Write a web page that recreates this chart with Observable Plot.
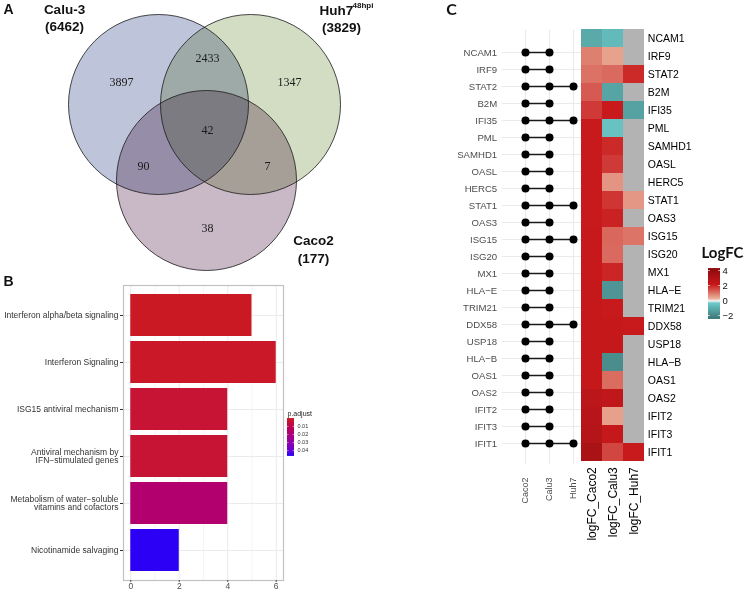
<!DOCTYPE html>
<html><head><meta charset="utf-8">
<script src="https://cdn.jsdelivr.net/npm/d3@7"></script>
<script src="https://cdn.jsdelivr.net/npm/@observablehq/plot@0.6"></script>
<style>
body{margin:0;background:#fff}
#fig{position:relative;width:747px;height:591px;overflow:hidden;background:#fff}
#fig > svg{position:absolute}
</style></head><body><div id="fig"></div>
<script>
// ---------- Data ----------
// Panel A: Venn
const vennSets = ["Calu-3", "Huh7", "Caco2"];
const vennTotals = [6462, 3829, 177];
const vennRegions = ["Calu-3 only", "Calu-3∩Huh7", "Huh7 only", "all three", "Calu-3∩Caco2", "Huh7∩Caco2", "Caco2 only"];
const vennCounts = [3897, 2433, 1347, 42, 90, 7, 38];
const vennColors = ["#bec4da", "#d3ddc3", "#c9b8c5"];

// Panel B: pathway enrichment
const pathways = ["Interferon alpha/beta signaling", "Interferon Signaling", "ISG15 antiviral mechanism",
  "Antiviral mechanism by\nIFN−stimulated genes", "Metabolism of water−soluble\nvitamins and cofactors", "Nicotinamide salvaging"];
const pathwayCounts = [5, 6, 4, 4, 4, 2];
const pathwayPadj = [0.0008, 0.0015, 0.004, 0.004, 0.017, 0.046];
const barTicks = [0, 2, 4, 6];
const padjTicks = [0.01, 0.02, 0.03, 0.04];

// Panel C: genes, membership and logFC
const genes = ["NCAM1","IRF9","STAT2","B2M","IFI35","PML","SAMHD1","OASL","HERC5","STAT1","OAS3","ISG15",
  "ISG20","MX1","HLA−E","TRIM21","DDX58","USP18","HLA−B","OAS1","OAS2","IFIT2","IFIT3","IFIT1"];
const cellLines = ["Caco2", "Calu3", "Huh7"];
const inHuh7 = ["STAT2","IFI35","STAT1","ISG15","DDX58","IFIT1"];
const heatColumns = ["logFC_Caco2", "logFC_Calu3", "logFC_Huh7"];
const logfcCaco2 = [-1.1, 0.94, 1.1, 1.4, 1.8, 2.2, 2.2, 2.2, 2.2, 2.2, 2.2, 2.25, 2.25, 2.25, 2.3, 2.3, 2.3, 2.3, 2.35, 2.35, 2.65, 2.8, 2.85, 3.25];
const logfcCalu3 = [-0.7, 0.51, 1.2, -1.25, 2.2, -0.5, 2.0, 1.8, 0.68, 1.86, 2.1, 1.24, 1.2, 2.05, -1.6, 2.2, 2.3, 2.3, -1.8, 1.18, 2.5, 0.53, 2.3, 1.65];
const logfcHuh7 = [null, null, 2.0, null, -1.3, null, null, null, null, 0.64, null, 1.08, null, null, null, null, 2.2, null, null, null, null, null, null, 2.2];
const logfcTicks = [4, 2, 0, -2];

// ---------- Layout (not data) ----------
const vennLayout = {
  centers: [[158, 104], [250, 104], [206, 180]],
  radius: 90,
  regionXY: [[121, 82], [207, 58], [289, 82], [207, 130], [143, 166], [267, 166], [207, 228]]
};
const FONT = "Liberation Sans, Arial, sans-serif";
const baseStyle = {background: "transparent", overflow: "visible", fontFamily: FONT};
const fig = document.getElementById("fig");
function place(svg, left, top) { svg.style.left = left + "px"; svg.style.top = top + "px"; fig.appendChild(svg); }

const logfcColor = {type: "linear", domain: [-2.4, -0.3, 0, 0.3, 2.2, 4.3],
  range: ["#3d7575", "#6ccaca", "#f4f4f4", "#eab39b", "#c8191c", "#8c0c10"], interpolate: "rgb"};
const padjColor = {type: "linear", domain: [0, 0.046], range: ["#cc1a20", "#2b00f5"], interpolate: "lab"};

// ---------- Panel A ----------
const circles = vennSets.map((s, i) => ({set: s, cx: vennLayout.centers[i][0], cy: vennLayout.centers[i][1], fill: vennColors[i]}));
const regions = vennRegions.map((r, i) => ({region: r, count: vennCounts[i], x: vennLayout.regionXY[i][0], y: vennLayout.regionXY[i][1]}));
place(Plot.plot({
  width: 370, height: 300, margin: 0, style: baseStyle,
  x: {type: "identity", axis: null}, y: {type: "identity", axis: null}, color: {type: "identity"},
  marks: [
    Plot.dot(circles, {x: "cx", y: "cy", r: vennLayout.radius, fill: "fill", mixBlendMode: "multiply"}),
    Plot.dot(circles, {x: "cx", y: "cy", r: vennLayout.radius, fill: "none", stroke: "#1a1a1a", strokeWidth: 0.8}),
    Plot.text(regions, {x: "x", y: "y", text: d => String(d.count), fontFamily: "Liberation Serif, Times New Roman, serif", fontSize: 12, fill: "#1a1a1a"}),
    Plot.text([vennSets[0], `(${vennTotals[0]})`], {x: 64, y: (d, i) => [9, 26][i], text: d => d, fontWeight: "bold", fontSize: 13.5, fill: "#111"}),
    Plot.text([vennSets[1]], {x: 319, y: 10, text: d => d, textAnchor: "start", fontWeight: "bold", fontSize: 13.5, fill: "#111"}),
    Plot.text(["48hpi"], {x: 352, y: 5, text: d => d, textAnchor: "start", fontWeight: "bold", fontSize: 8, fill: "#111"}),
    Plot.text([`(${vennTotals[1]})`], {x: 341, y: 27, text: d => d, fontWeight: "bold", fontSize: 13.5, fill: "#111"}),
    Plot.text([vennSets[2], `(${vennTotals[2]})`], {x: 313, y: (d, i) => [240, 258][i], text: d => d, fontWeight: "bold", fontSize: 13.5, fill: "#111"}),
    Plot.text(["A"], {x: 8, y: 9, text: d => d, fontWeight: "bold", fontSize: 14, fill: "#111"}),
    Plot.text(["B"], {x: 8, y: 281, text: d => d, fontWeight: "bold", fontSize: 14, fill: "#111"})
  ]
}), 0, 0);

// ---------- Panel B ----------
const bars = pathways.map((p, i) => ({pathway: p, count: pathwayCounts[i], padj: pathwayPadj[i]}));
place(Plot.plot({
  width: 330, height: 311, marginLeft: 123, marginRight: 47, marginTop: 5, marginBottom: 11, style: baseStyle,
  x: {domain: [-0.3, 6.3]},
  y: {domain: pathways, paddingInner: 0.1, paddingOuter: 0.15},
  color: padjColor,
  marks: [
    Plot.ruleX([1, 3, 5], {stroke: "#f3f3f3", strokeWidth: 0.8}),
    Plot.gridX({ticks: barTicks, stroke: "#ebebeb", strokeOpacity: 1}),
    Plot.gridY({stroke: "#ebebeb", strokeOpacity: 1}),
    Plot.barX(bars, {x: "count", y: "pathway", fill: "padj"}),
    Plot.frame({stroke: "#c2c2c2", strokeWidth: 1.2}),
    Plot.axisX({ticks: barTicks, tickFormat: d => String(d), tickSize: 2, tickPadding: 0, fontSize: 8.5, color: "#4d4d4d", label: null}),
    Plot.axisY({tickSize: 3, tickPadding: 2, fontSize: 8.5, color: "#333", label: null})
  ]
}), 0, 280);

// p.adjust legend
place(Plot.plot({
  width: 60, height: 60, margin: 0, style: baseStyle,
  x: {type: "identity", axis: null}, y: {domain: [0, 0.046], range: [18, 55], axis: null},
  color: padjColor,
  marks: [
    Plot.ruleY(d3.range(0, 0.0461, 0.0002), {y: d => d, x1: 7, x2: 14, stroke: d => d, strokeWidth: 0.6}),
    Plot.ruleY(padjTicks, {y: d => d, x1: 7, x2: 8.5, stroke: "white", strokeWidth: 0.5}),
    Plot.ruleY(padjTicks, {y: d => d, x1: 12.5, x2: 14, stroke: "white", strokeWidth: 0.5}),
    Plot.text(padjTicks, {y: d => d, x: 17, text: d => d.toFixed(2), textAnchor: "start", fontSize: 5.5, fill: "#333"}),
    Plot.text(["p.adjust"], {frameAnchor: "top-left", dx: 7, dy: 13, text: d => d, textAnchor: "start", lineAnchor: "middle", fontSize: 7, fill: "#222"})
  ]
}), 280, 400);

// ---------- Panel C: dot matrix ----------
const membership = genes.flatMap(g => cellLines.filter(c => c !== "Huh7" || inHuh7.includes(g)).map(c => ({gene: g, line: c})));
place(Plot.plot({
  width: 211, height: 591, marginLeft: 131.7, marginRight: 0, marginTop: 30, marginBottom: 127, style: baseStyle,
  x: {type: "point", domain: cellLines, range: [155.3, 203.3], padding: 0},
  y: {type: "point", domain: genes, padding: 0.6},
  marks: [
    Plot.gridY({stroke: "#ebebeb", strokeOpacity: 1, strokeWidth: 1.2}),
    Plot.gridX({stroke: "#ebebeb", strokeOpacity: 1, strokeWidth: 1.2}),
    Plot.line(membership, {x: "line", y: "gene", z: "gene", stroke: "#1a1a1a", strokeWidth: 1.6}),
    Plot.dot(membership, {x: "line", y: "gene", r: 4, fill: "black"}),
    Plot.axisY({tickSize: 0, tickPadding: 5, fontSize: 9.6, color: "#4d4d4d", label: null}),
    Plot.axisX({tickSize: 0, tickPadding: 13, rotate: -90, textAnchor: "end", dx: -4, fontSize: 9, color: "#4d4d4d", label: null}),
    Plot.text(["C"], {frameAnchor: "top-left", dx: -50.7, dy: -21, text: d => d, textAnchor: "middle", lineAnchor: "middle", fontFamily: "Lato, Open Sans, sans-serif", fontWeight: "bold", fontSize: 16, fill: "#111"})
  ]
}), 370, 0);

// ---------- Panel C: heatmap ----------
const heatCells = genes.flatMap((g, i) => [logfcCaco2[i], logfcCalu3[i], logfcHuh7[i]].map((v, j) => ({gene: g, col: heatColumns[j], v})));
place(Plot.plot({
  width: 145, height: 591, marginLeft: 20.7, marginRight: 60.7, marginTop: 27.7, marginBottom: 129.3, style: baseStyle,
  x: {domain: heatColumns, padding: 0},
  y: {domain: genes, padding: 0},
  color: logfcColor,
  marks: [
    Plot.cell(heatCells, {x: "col", y: "gene", fill: "#b3b3b3"}),
    Plot.cell(heatCells.filter(d => d.v != null), {x: "col", y: "gene", fill: "v"}),
    Plot.axisY({anchor: "right", tickSize: 0, tickPadding: 3, fontSize: 10.5, color: "black", label: null}),
    Plot.axisX({anchor: "bottom", rotate: -90, textAnchor: "end", dx: -5, tickSize: 0, tickPadding: 5, fontSize: 12, color: "black", label: null})
  ]
}), 560, 0);

// LogFC legend
place(Plot.plot({
  width: 52, height: 90, margin: 0, style: baseStyle,
  x: {type: "identity", axis: null}, y: {domain: [-2.4, 4.27], range: [78, 28], axis: null},
  color: logfcColor,
  marks: [
    Plot.ruleY(d3.range(-2.4, 4.27, 0.03), {y: d => d, x1: 13, x2: 25, stroke: d => d, strokeWidth: 0.8}),
    Plot.ruleY(logfcTicks, {y: d => d, x1: 13, x2: 15, stroke: "white", strokeWidth: 0.6}),
    Plot.ruleY(logfcTicks, {y: d => d, x1: 23, x2: 25, stroke: "white", strokeWidth: 0.6}),
    Plot.text(logfcTicks, {y: d => d, x: 27, text: d => d < 0 ? "−" + (-d) : String(d), textAnchor: "start", fontSize: 9.5, fill: "#111"}),
    Plot.text(["LogFC"], {frameAnchor: "top-left", dx: 27, dy: 13, text: d => d, textAnchor: "middle", lineAnchor: "middle", fontFamily: "Lato, Open Sans, sans-serif", fontWeight: "bold", fontSize: 15, fill: "#111"})
  ]
}), 695, 240);
</script></body></html>
